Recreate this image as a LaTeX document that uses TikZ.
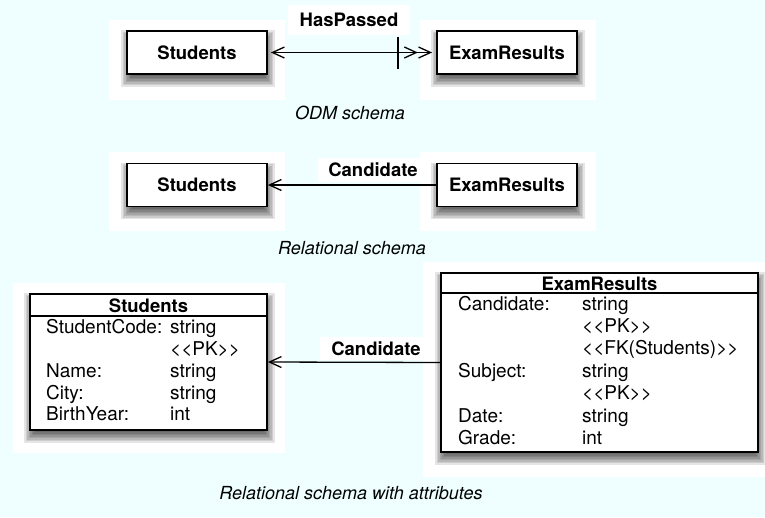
\documentclass[tikz,border=0pt]{standalone}
\usepackage{fontspec}
\setmainfont{TeX Gyre Heros}
\usetikzlibrary{arrows.meta,calc}

\definecolor{paper}{RGB}{239,255,255}

\pgfdeclarelayer{panels}
\pgfdeclarelayer{shadows}
\pgfsetlayers{panels,shadows,main}

% soft drop shadow under a named node
\newcommand{\boxshadow}[1]{%
  \begin{pgfonlayer}{shadows}
    \foreach \e in {-6,-4.5,-3,-1.5,0,1.5,3,4.5,6}{
      \fill[black, opacity=0.1]
        ($(#1.north west)+({1-(\e)},{6-(\e)})$) rectangle
        ($(#1.south east)+({1+(\e)},{6+(\e)})$);
    }
  \end{pgfonlayer}}

% literal angle brackets, kept apart from the font's << >> ligature mapping
\newcommand{\lgl}{<\kern0pt<\kern0pt}
\newcommand{\rgl}{\kern0pt>\kern0pt>}

\tikzset{
  entity/.style={draw, line width=1.8pt, fill=white, inner sep=0pt,
    minimum width=140pt, minimum height=43pt,
    font=\bfseries\fontsize{18.5}{22}\selectfont},
  tablebox/.style={draw, line width=1.8pt, fill=white, inner sep=0pt},
  headtxt/.style={inner sep=0pt, font=\bfseries\fontsize{18.5}{22}\selectfont},
  cell/.style={anchor=mid west, inner sep=0pt, font=\fontsize{19}{22}\selectfont},
  lab/.style={fill=white, inner sep=0pt, font=\bfseries\fontsize{18.5}{22}\selectfont},
  caption/.style={inner sep=0pt, font=\itshape\fontsize{18}{22}\selectfont},
  conn/.style={line width=1.3pt},
  sepline/.style={line width=1.4pt}
}

\begin{document}
\begin{tikzpicture}[x=1pt, y=-1pt]
\useasboundingbox (0,0) rectangle (765,517);

% backdrop and white panels
\begin{pgfonlayer}{panels}
  \fill[paper] (0,0) rectangle (765,517);
  \fill[white] (109,20) rectangle (285,100);
  \fill[white] (420,20) rectangle (596,100);
  \fill[white] (109,152) rectangle (285,231);
  \fill[white] (420,152) rectangle (596,231);
  \fill[white] (13,283) rectangle (285,453);
  \fill[white] (423,262) rectangle (765,477);
\end{pgfonlayer}

% ---- ODM schema ----
\node[entity] (stuA) at (197,52.5) {Students};
\node[entity] (exrA) at (507,52.5) {ExamResults};
\boxshadow{stuA}
\boxshadow{exrA}
\node[lab, minimum width=122pt, minimum height=30pt] (hasp) at (349,20) {HasPassed};
\draw[conn,
  {Straight Barb[length=12pt, width=11pt]}-{Straight Barb[length=12pt, width=11pt] Straight Barb[length=12pt, width=11pt]},
  shorten <=3pt, shorten >=4pt] (stuA.east) -- (exrA.west);
\coordinate (tick) at (398,52.5);
\draw[conn] ($(tick)+(0,-16)$) -- ($(tick)+(0,16)$);
\node[caption] (capA) at (350,113) {ODM schema};

% ---- Relational schema ----
\node[entity] (stuB) at (197,185) {Students};
\node[entity] (exrB) at (507,185) {ExamResults};
\boxshadow{stuB}
\boxshadow{exrB}
\node[lab, minimum width=110pt, minimum height=24pt] (candB) at (373,170) {Candidate};
\draw[conn, -{Straight Barb[length=12pt, width=11pt]}] (exrB.west) -- (stuB.east);
\node[caption] (capB) at (352,248) {Relational schema};

% ---- Relational schema with attributes ----
\node[tablebox, minimum width=237pt, minimum height=136pt] (stuC) at (148.5,362) {};
\node[tablebox, minimum width=317pt, minimum height=179pt] (exrC) at (599.5,362.5) {};
\boxshadow{stuC}
\boxshadow{exrC}
\draw[sepline] ($(stuC.north west)+(0,23)$) -- ($(stuC.north east)+(0,23)$);
\draw[sepline] ($(exrC.north west)+(0,21)$) -- ($(exrC.north east)+(0,21)$);

\node[headtxt] (stuCh) at (148.5,305.5) {Students};
\node[cell] (s1a) at (46,331) {StudentCode:};
\node[cell] (s1b) at (170,331) {string};
\node[cell] (s2b) at (170,353) {\lgl PK\rgl};
\node[cell] (s3a) at (46,375) {Name:};
\node[cell] (s3b) at (170,375) {string};
\node[cell] (s4a) at (46,397) {City:};
\node[cell] (s4b) at (170,397) {string};
\node[cell] (s5a) at (46,418) {BirthYear:};
\node[cell] (s5b) at (170,418) {int};

\node[headtxt] (exrCh) at (599.5,284) {ExamResults};
\node[cell] (e1a) at (458,308) {Candidate:};
\node[cell] (e1b) at (582,308) {string};
\node[cell] (e2b) at (582,330) {\lgl PK\rgl};
\node[cell] (e3b) at (582,352) {\lgl FK(Students)\rgl};
\node[cell] (e4a) at (458,375) {Subject:};
\node[cell] (e4b) at (582,375) {string};
\node[cell] (e5b) at (582,397) {\lgl PK\rgl};
\node[cell] (e6a) at (458,420) {Date:};
\node[cell] (e6b) at (582,420) {string};
\node[cell] (e7a) at (458,442) {Grade:};
\node[cell] (e7b) at (582,442) {int};

\node[lab, minimum width=112pt, minimum height=23pt] (candC) at (376,348.5) {Candidate};
\draw[conn, -{Straight Barb[length=12pt, width=11pt]}] (exrC.west) -- (stuC.east);
\node[caption] (capC) at (351,493) {Relational schema with attributes};
\end{tikzpicture}
\end{document}
